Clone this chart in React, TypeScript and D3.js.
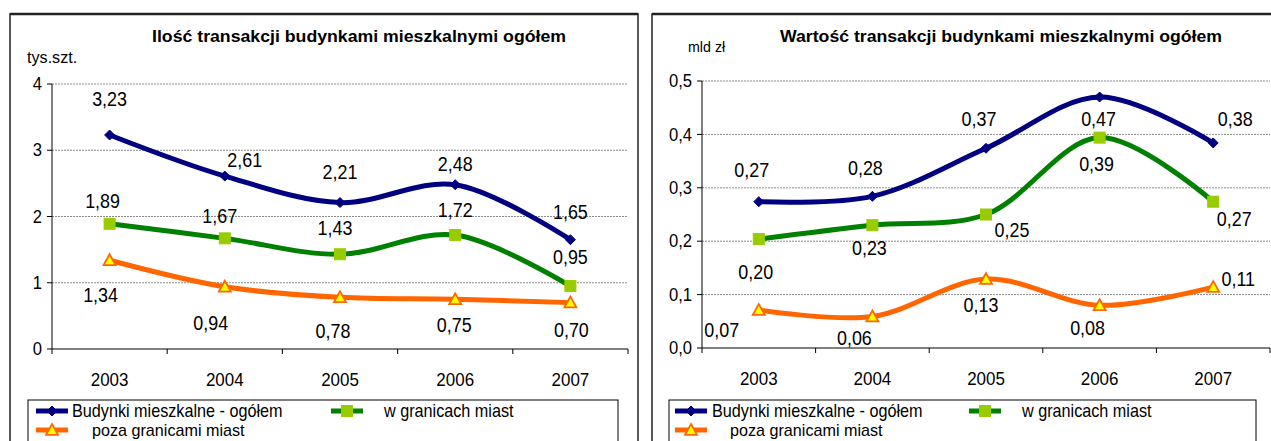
import React from "react";
import * as d3 from "d3";

const years = ["2003", "2004", "2005", "2006", "2007"];

// Left chart: number of transactions (thousand units)
const countTotal = [3.23, 2.61, 2.21, 2.48, 1.65];
const countInCities = [1.89, 1.67, 1.43, 1.72, 0.95];
const countOutside = [1.34, 0.94, 0.78, 0.75, 0.70];
const countTicks = [0, 1, 2, 3, 4];

// Right chart: value of transactions (bn PLN)
const valueTotal = [0.274, 0.284, 0.374, 0.47, 0.384];
const valueInCities = [0.204, 0.23, 0.25, 0.394, 0.274];
const valueOutside = [0.071, 0.059, 0.129, 0.08, 0.114];
const valueTicks = [0, 0.1, 0.2, 0.3, 0.4, 0.5];

const seriesNames = ["Budynki mieszkalne - ogółem", "w granicach miast", "poza granicami miast"];

// label placement (layout only)
const leftLabelOffsets = [
  [[0, -36], [20, -16], [0, -30], [0, -21], [0, -28]],
  [[-7, -23], [-5, -22], [-5, -26], [0, -25], [0, -29]],
  [[-9, 35], [-14, 36], [-7, 34], [-1, 26], [1, 28]],
];
const rightLabelOffsets = [
  [[-7, -32], [-7, -28], [-7, -29], [-1, 22], [22, -24]],
  [[-3, 33], [-3, 23], [26, 16], [-3, 27], [21, 17]],
  [[-37, 20], [-18, 22], [-5, 26], [-12, 23], [25, -8]],
];

const COLORS = ["#000080", "#008000", "#FF6600"];
const FONT = "'Liberation Sans', Arial, sans-serif";

const fmt2 = (v: number) => d3.format(".2f")(v).replace(".", ",");

function NText({
  x,
  y,
  size,
  sx,
  anchor,
  children,
}: {
  x: number;
  y: number;
  size: number;
  sx: number;
  anchor?: string;
  children: React.ReactNode;
}) {
  return (
    <text
      transform={`translate(${x},${y}) scale(${sx},1)`}
      dy="0.35em"
      textAnchor={anchor || "start"}
      fontSize={size}
    >
      {children}
    </text>
  );
}

function Marker({ kind, x, y }: { kind: number; x: number; y: number }) {
  if (kind === 0) {
    const s = 5;
    return (
      <path
        d={`M${x},${y - s}L${x + s},${y}L${x},${y + s}L${x - s},${y}Z`}
        fill="#000080"
        stroke="#000080"
        strokeWidth={1}
      />
    );
  }
  if (kind === 1) {
    return <rect x={x - 5.5} y={y - 5.5} width={11} height={11} fill="#99CC00" stroke="#99CC00" />;
  }
  const s = 6;
  return (
    <path
      d={`M${x},${y - s}L${x + s},${y + s * 0.8}L${x - s},${y + s * 0.8}Z`}
      fill="#FFFF00"
      stroke="#FF6600"
      strokeWidth={1.8}
    />
  );
}

type PanelProps = {
  box: [number, number, number];
  title: string;
  titleX: number;
  titleLen: number;
  unit: string;
  unitX: number;
  unitY: number;
  unitSize: number;
  x0: number;
  x1: number;
  yTop: number;
  yBottom: number;
  ticks: number[];
  tickFmt: (v: number) => string;
  series: number[][];
  offsets: number[][][];
  legend: { boxX0: number; boxX1: number; sx: number[]; tx: number[] };
};

function Panel(p: PanelProps) {
  const x = d3.scaleBand<string>().domain(years).range([p.x0, p.x1]).padding(0);
  const y = d3
    .scaleLinear()
    .domain([p.ticks[0], p.ticks[p.ticks.length - 1]])
    .range([p.yBottom, p.yTop]);
  const cx = (yr: string) => (x(yr) as number) + x.bandwidth() / 2;
  const line = d3
    .line<number>()
    .x((_, i) => cx(years[i]))
    .y((d) => y(d))
    .curve(d3.curveCatmullRom.alpha(0.5));
  const [bx0, bx1, by0] = p.box;
  const boundaries = [...years.map((yr) => x(yr) as number), p.x1];
  const lg = p.legend;
  const legendRows = [
    { s: 0, lx: lg.sx[0], tx: lg.tx[0], yy: 411 },
    { s: 1, lx: lg.sx[1], tx: lg.tx[1], yy: 411 },
    { s: 2, lx: lg.sx[0], tx: lg.tx[2], yy: 430 },
  ];
  return (
    <g fontFamily={FONT}>
      <rect x={bx0} y={by0} width={bx1 - bx0} height={460} fill="#fff" stroke="#222" strokeWidth={1.5} />
      <line x1={bx0} x2={bx1} y1={by0} y2={by0} stroke="#222" strokeWidth={2.5} />
      <text
        x={p.titleX}
        y={42}
        textAnchor="middle"
        fontWeight="bold"
        fontSize={16.5}
        textLength={p.titleLen}
        lengthAdjust="spacingAndGlyphs"
      >
        {p.title}
      </text>
      <NText x={p.unitX} y={p.unitY} size={p.unitSize} sx={0.95}>
        {p.unit}
      </NText>
      {/* gridlines */}
      {p.ticks.slice(1).map((t) => (
        <line
          key={"g" + t}
          x1={p.x0}
          x2={p.x1}
          y1={y(t)}
          y2={y(t)}
          stroke="#8c8c8c"
          strokeWidth={1}
          strokeDasharray="2,1"
        />
      ))}
      {/* y axis */}
      <line x1={p.x0} x2={p.x0} y1={p.yTop} y2={p.yBottom} stroke="#000" strokeWidth={1} />
      {p.ticks.map((t) => (
        <g key={"t" + t}>
          <line x1={p.x0 - 5} x2={p.x0} y1={y(t)} y2={y(t)} stroke="#000" />
          <NText x={p.x0 - 10} y={y(t)} size={17.5} sx={0.95} anchor="end">
            {p.tickFmt(t)}
          </NText>
        </g>
      ))}
      {/* x axis */}
      <line x1={p.x0} x2={p.x1} y1={p.yBottom} y2={p.yBottom} stroke="#000" strokeWidth={1} />
      {boundaries.map((b, i) => (
        <line key={"xb" + i} x1={b} x2={b} y1={p.yBottom} y2={p.yBottom + 5} stroke="#000" />
      ))}
      {years.map((yr) => (
        <NText key={"xl" + yr} x={cx(yr)} y={p.yBottom + 31} size={17.5} sx={0.97} anchor="middle">
          {yr}
        </NText>
      ))}
      {/* series */}
      {p.series.map((s, si) => (
        <g key={"s" + si}>
          <path d={line(s) as string} fill="none" stroke={COLORS[si]} strokeWidth={5} strokeLinejoin="round" />
          {s.map((v, i) => (
            <Marker key={i} kind={si} x={cx(years[i])} y={y(v)} />
          ))}
        </g>
      ))}
      {p.series.map((s, si) =>
        s.map((v, i) => (
          <NText
            key={"l" + si + "-" + i}
            x={cx(years[i]) + p.offsets[si][i][0]}
            y={y(v) + p.offsets[si][i][1]}
            size={19.5}
            sx={0.92}
            anchor="middle"
          >
            {fmt2(v)}
          </NText>
        ))
      )}
      {/* legend */}
      <rect x={lg.boxX0} y={400} width={lg.boxX1 - lg.boxX0} height={60} fill="#fff" stroke="#000" strokeWidth={1} />
      {legendRows.map((r) => (
        <g key={"lg" + r.s}>
          <line x1={r.lx} x2={r.lx + 32} y1={r.yy} y2={r.yy} stroke={COLORS[r.s]} strokeWidth={5} />
          <Marker kind={r.s} x={r.lx + 16} y={r.yy} />
          <NText x={r.tx} y={r.yy} size={r.s === 2 ? 17 : 18} sx={r.s === 2 ? 0.95 : 0.9}>
            {seriesNames[r.s]}
          </NText>
        </g>
      ))}
    </g>
  );
}

export default function App() {
  return (
    <svg
      width={1271}
      height={441}
      style={{ position: "absolute", left: 0, top: 0, background: "#fff" }}
    >
      <rect x={0} y={0} width={1271} height={441} fill="#fff" />
      <Panel
        box={[10, 638, 14]}
        title="Ilość transakcji budynkami mieszkalnymi ogółem"
        titleX={359}
        titleLen={414}
        unit="tys.szt."
        unitX={27}
        unitY={57}
        unitSize={17}
        x0={52}
        x1={628}
        yTop={84}
        yBottom={349}
        ticks={countTicks}
        tickFmt={(v) => String(v)}
        series={[countTotal, countInCities, countOutside]}
        offsets={leftLabelOffsets}
        legend={{ boxX0: 28, boxX1: 618, sx: [36, 331], tx: [72, 384, 92] }}
      />
      <Panel
        box={[652, 1275, 14]}
        title="Wartość transakcji budynkami mieszkalnymi ogółem"
        titleX={1001}
        titleLen={442}
        unit="mld zł"
        unitX={688}
        unitY={47}
        unitSize={15}
        x0={702}
        x1={1270}
        yTop={81}
        yBottom={348}
        ticks={valueTicks}
        tickFmt={(v) => d3.format(".1f")(v).replace(".", ",")}
        series={[valueTotal, valueInCities, valueOutside]}
        offsets={rightLabelOffsets}
        legend={{ boxX0: 669, boxX1: 1256, sx: [675, 969], tx: [712, 1022, 730] }}
      />
    </svg>
  );
}
